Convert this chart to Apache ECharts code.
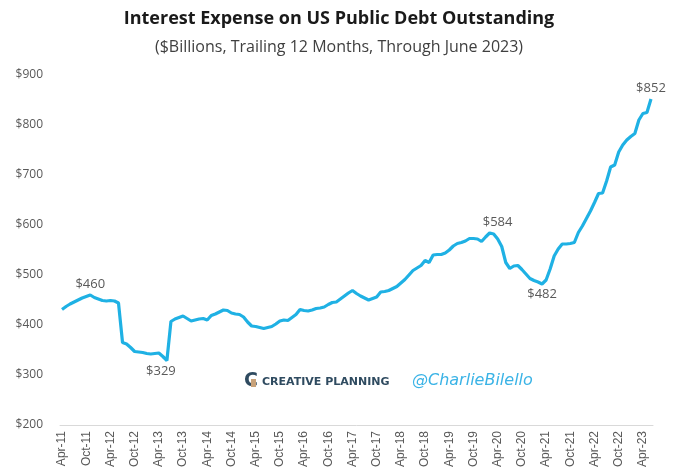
<!DOCTYPE html>
<html>
<head>
<meta charset="utf-8">
<script src="https://cdn.jsdelivr.net/npm/echarts@6/dist/echarts.min.js"></script>
<style>html,body{margin:0;padding:0;background:#fff;}#c{width:678px;height:474px;}</style>
</head>
<body>
<div id="c"></div>
<script>
var months = [
'Apr-11','May-11','Jun-11','Jul-11','Aug-11','Sep-11','Oct-11','Nov-11','Dec-11','Jan-12','Feb-12','Mar-12',
'Apr-12','May-12','Jun-12','Jul-12','Aug-12','Sep-12','Oct-12','Nov-12','Dec-12','Jan-13','Feb-13','Mar-13',
'Apr-13','May-13','Jun-13','Jul-13','Aug-13','Sep-13','Oct-13','Nov-13','Dec-13','Jan-14','Feb-14','Mar-14',
'Apr-14','May-14','Jun-14','Jul-14','Aug-14','Sep-14','Oct-14','Nov-14','Dec-14','Jan-15','Feb-15','Mar-15',
'Apr-15','May-15','Jun-15','Jul-15','Aug-15','Sep-15','Oct-15','Nov-15','Dec-15','Jan-16','Feb-16','Mar-16',
'Apr-16','May-16','Jun-16','Jul-16','Aug-16','Sep-16','Oct-16','Nov-16','Dec-16','Jan-17','Feb-17','Mar-17',
'Apr-17','May-17','Jun-17','Jul-17','Aug-17','Sep-17','Oct-17','Nov-17','Dec-17','Jan-18','Feb-18','Mar-18',
'Apr-18','May-18','Jun-18','Jul-18','Aug-18','Sep-18','Oct-18','Nov-18','Dec-18','Jan-19','Feb-19','Mar-19',
'Apr-19','May-19','Jun-19','Jul-19','Aug-19','Sep-19','Oct-19','Nov-19','Dec-19','Jan-20','Feb-20','Mar-20',
'Apr-20','May-20','Jun-20','Jul-20','Aug-20','Sep-20','Oct-20','Nov-20','Dec-20','Jan-21','Feb-21','Mar-21',
'Apr-21','May-21','Jun-21','Jul-21','Aug-21','Sep-21','Oct-21','Nov-21','Dec-21','Jan-22','Feb-22','Mar-22',
'Apr-22','May-22','Jun-22','Jul-22','Aug-22','Sep-22','Oct-22','Nov-22','Dec-22','Jan-23','Feb-23','Mar-23',
'Apr-23','May-23','Jun-23'
];

var interestExpense = [
431,437,442,446,450,454,457,460,455,452,449,448,
449,448,444,365,362,355,347,346,345,343,342,343,
344,337,329,407,412,415,418,413,408,410,412,413,
410,419,422,426,430,429,424,422,421,416,406,398,
397,395,393,395,397,402,408,410,409,415,421,431,
429,428,430,433,434,436,441,445,446,452,458,464,
469,463,458,454,450,453,456,466,467,469,473,477,
484,491,500,509,514,519,529,525,540,541,541,544,
550,558,563,565,568,573,573,572,567,576,584,582,
572,557,525,513,518,519,511,502,493,489,486,482,
490,512,538,552,562,562,563,565,585,598,613,628,
645,663,664,688,716,720,746,760,770,777,783,810,
823,825,852
];

var yTicks = [200, 300, 400, 500, 600, 700, 800, 900];

// annotated points: index into months, label placement
var annotations = [
  {idx: 7,   pos: 'top',    dx: 0,  dy: 0},
  {idx: 26,  pos: 'bottom', dx: -6, dy: 0},
  {idx: 106, pos: 'top',    dx: 8,  dy: 0},
  {idx: 119, pos: 'bottom', dx: 0,  dy: 0},
  {idx: 146, pos: 'top',    dx: 0,  dy: 0}
];

var seriesData = interestExpense.map(function (v, i) {
  var a = annotations.filter(function (x) { return x.idx === i; })[0];
  if (!a) return v;
  return {
    value: v,
    label: {
      show: true,
      position: a.pos,
      offset: [a.dx, a.dy],
      distance: 4,
      formatter: function (p) { return '$' + p.value; },
      color: '#595959',
      fontSize: 13,
      fontFamily: 'Open Sans'
    }
  };
});

var chart = echarts.init(document.getElementById('c'), null, {renderer: 'canvas'});
chart.setOption({
  backgroundColor: '#ffffff',
  animation: false,
  title: [{
    text: 'Interest Expense on US Public Debt Outstanding',
    left: 'center', top: 5,
    textStyle: {fontFamily: 'Open Sans', fontWeight: 'bold', fontSize: 18, color: '#1a1a1a'}
  }, {
    text: '($Billions, Trailing 12 Months, Through June 2023)',
    left: 'center', top: 34,
    textStyle: {fontFamily: 'Open Sans', fontWeight: 'normal', fontSize: 16, color: '#404040'}
  }],
  grid: {left: 60, right: 25, top: 75, bottom: 49, containLabel: false},
  xAxis: {
    type: 'category',
    data: months,
    boundaryGap: true,
    axisLine: {show: true, lineStyle: {color: '#d9d9d9', width: 1}},
    axisTick: {show: false},
    axisLabel: {
      interval: 5, rotate: 90, margin: 6,
      color: '#595959', fontSize: 12, fontFamily: 'Liberation Sans'
    },
    splitLine: {show: false}
  },
  yAxis: {
    type: 'value',
    min: yTicks[0], max: yTicks[yTicks.length - 1], interval: 100,
    axisLine: {show: false},
    axisTick: {show: false},
    splitLine: {show: false},
    axisLabel: {
      margin: 17, color: '#595959', fontSize: 12, fontFamily: 'Open Sans',
      formatter: function (v) { return '$' + v; }
    }
  },
  series: [{
    type: 'line',
    data: seriesData,
    symbol: 'circle',
    symbolSize: 0.01,
    showSymbol: true,
    showAllSymbol: true,
    smooth: false,
    lineStyle: {color: '#1fb1e4', width: 3.2},
    itemStyle: {color: '#1fb1e4'},
    z: 3
  }],
  graphic: [
    {type: 'text', left: 244, top: 372, style: {text: 'C', fontFamily: 'DejaVu Sans', fontWeight: 'bold', fontSize: 19, fill: '#2f4b60'}},
    {type: 'rect', left: 251, top: 379, shape: {width: 5, height: 8}, style: {fill: '#c8a27a'}},
    {type: 'text', left: 262, top: 377, style: {text: 'CREATIVE PLANNING', fontFamily: 'DejaVu Sans', fontWeight: 'bold', fontSize: 11, fill: '#2f4b60'}},
    {type: 'text', left: 412, top: 373, style: {text: '@CharlieBilello', fontFamily: 'DejaVu Sans', fontStyle: 'italic', fontSize: 16, fill: '#3ab3e6'}}
  ]
});
</script>
</body>
</html>
